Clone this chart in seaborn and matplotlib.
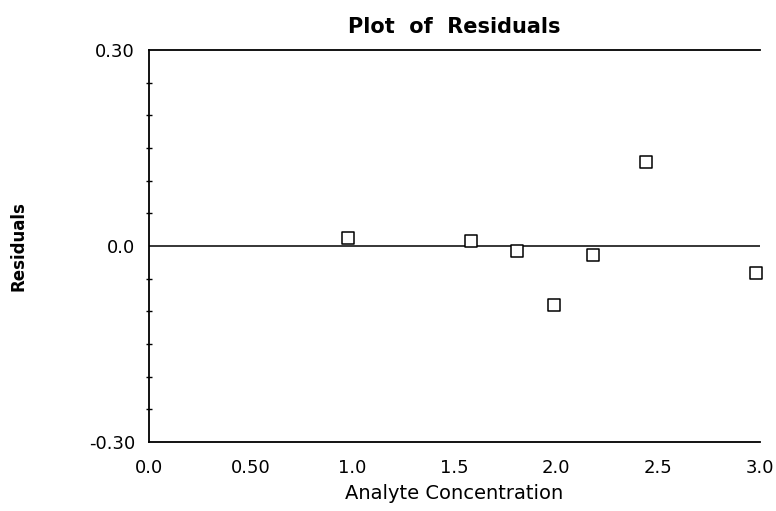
import matplotlib
matplotlib.use("Agg")
import matplotlib.pyplot as plt
import seaborn as sns
import numpy as np
import pandas as pd

# Dados
concentracao = [0.98, 1.58, 1.81, 1.99, 2.18, 2.44, 2.98]
residuos = [0.012, 0.007, -0.007, -0.090, -0.013, 0.128, -0.042]

x_ticks = [0.0, 0.5, 1.0, 1.5, 2.0, 2.5, 3.0]
x_labels = ['0.0', '0.50', '1.0', '1.5', '2.0', '2.5', '3.0']
y_ticks = [-0.30, 0.0, 0.30]
y_labels = ['-0.30', '0.0', '0.30']

df = pd.DataFrame({'Concentracao': concentracao, 'Residuo': residuos})

sns.set_style('ticks')
plt.rcParams['font.family'] = ['DejaVu Sans']
plt.rcParams['text.color'] = 'black'
plt.rcParams['axes.labelcolor'] = 'black'
plt.rcParams['xtick.color'] = 'black'
plt.rcParams['ytick.color'] = 'black'

fig = plt.figure(figsize=(7.76, 5.11), dpi=100)
ax = fig.add_axes([0.192, 0.135, 0.787, 0.767])

sns.scatterplot(
    data=df,
    x='Concentracao',
    y='Residuo',
    marker='s',
    s=75,
    facecolor='white',
    edgecolor='black',
    linewidth=1.1,
    ax=ax,
    zorder=3,
    clip_on=False
)

# Linha do zero
ax.axhline(0, color='black', linewidth=1.1, zorder=2)

ax.set_xlim(0, 3.0)
ax.set_ylim(-0.30, 0.30)
ax.set_xticks(x_ticks)
ax.set_xticklabels(x_labels, fontsize=13)
ax.set_yticks(y_ticks)
ax.set_yticklabels(y_labels, fontsize=13)
ax.set_yticks(np.arange(-0.30, 0.301, 0.05), minor=True)
ax.tick_params(axis='x', length=0, pad=12)
ax.tick_params(axis='y', which='major', length=0, pad=10)
ax.tick_params(axis='y', which='minor', length=4, direction='inout', width=1)

for lado in ['left', 'top', 'bottom']:
    ax.spines[lado].set_linewidth(1.3)
    ax.spines[lado].set_color('black')
ax.spines['right'].set_visible(False)

ax.set_title('Plot  of  Residuals', fontsize=15, weight='bold', pad=12)
ax.set_xlabel('Analyte Concentration', fontsize=14, labelpad=5)
ax.set_ylabel('Residuals', fontsize=12, weight='bold', labelpad=44)

fig.savefig('out.png', dpi=100)
